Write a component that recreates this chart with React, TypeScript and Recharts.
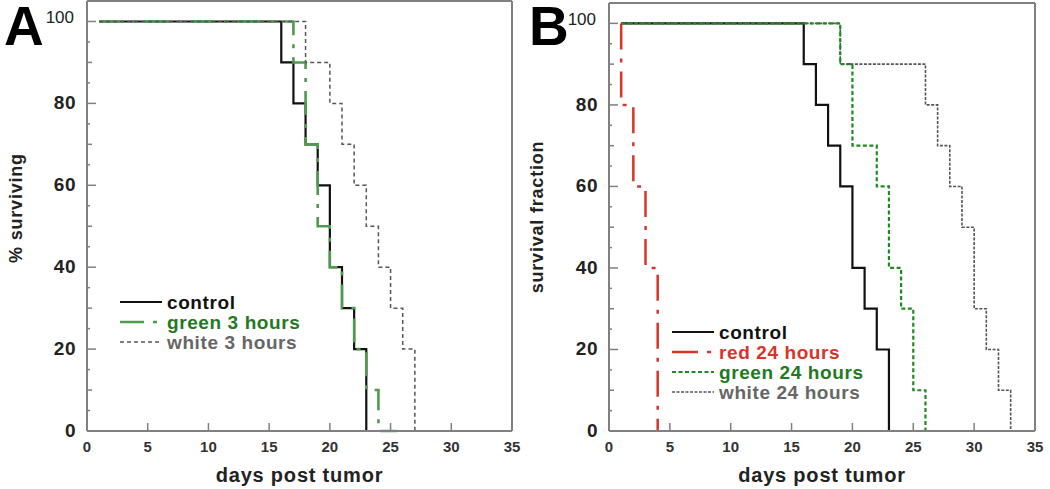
import { LineChart, Line, XAxis, YAxis } from "recharts";

const dayTicks = [0, 5, 10, 15, 20, 25, 30, 35];
const pctTicks = [0, 5, 10, 15, 20, 25, 30, 35, 40, 45, 50, 55, 60, 65, 70, 75, 80, 85, 90, 95, 100];

// panel A
const controlDays = [1, 16, 17, 18, 19, 20, 21, 22, 23];
const controlPct = [100, 90, 80, 70, 60, 40, 30, 20, 0];
const green3Days = [1, 17, 18, 19, 20, 21, 22, 23, 24, 25.5];
const green3Pct = [100, 90, 70, 50, 40, 30, 20, 10, 0, 0];
const white3Days = [1, 18, 20, 21, 22, 23, 24, 25, 26, 27, 32.5];
const white3Pct = [100, 90, 80, 70, 60, 50, 40, 30, 20, 0, 0];

// panel B
const red24Days = [1, 1, 2, 3, 4];
const red24Pct = [100, 80, 60, 40, 0];
const green24Days = [1, 19, 20, 22, 23, 24, 25, 26, 33];
const green24Pct = [100, 90, 70, 60, 40, 30, 10, 0, 0];
const white24Days = [1, 19, 26, 27, 28, 29, 30, 31, 32, 33];
const white24Pct = [100, 90, 80, 70, 60, 50, 30, 20, 10, 0];

const zip = (days: number[], pct: number[]) => days.map((d, i) => ({ day: d, pct: pct[i] }));

const FONT = "'Liberation Sans', Arial, Helvetica, sans-serif";
const FRAME = "#808080";

type Series = {
  name: string;
  data: { day: number; pct: number }[];
  stroke: string;
  text: string;
  width: number;
  dash?: string;
};

const seriesA: Series[] = [
  { name: "control", data: zip(controlDays, controlPct), stroke: "#111", text: "#111", width: 2.2 },
  { name: "green 3 hours", data: zip(green3Days, green3Pct), stroke: "#4f9a4f", text: "#1f7a1f", width: 2.6, dash: "24 9 4 9" },
  { name: "white 3 hours", data: zip(white3Days, white3Pct), stroke: "#555", text: "#666", width: 1.5, dash: "4 3" },
];

const seriesB: Series[] = [
  { name: "control", data: zip(controlDays, controlPct), stroke: "#111", text: "#111", width: 2.2 },
  { name: "red 24 hours", data: zip(red24Days, red24Pct), stroke: "#d8342a", text: "#d8342a", width: 2.5, dash: "26 9 4 9" },
  { name: "green 24 hours", data: zip(green24Days, green24Pct), stroke: "#1f8a1f", text: "#1f7a1f", width: 2.2, dash: "4 2.5" },
  { name: "white 24 hours", data: zip(white24Days, white24Pct), stroke: "#555", text: "#666", width: 1.6, dash: "3 1.5" },
];

const yLen = (v: number) => (v % 20 === 0 ? 9 : v % 10 === 0 ? 5 : 3);

const LeftTick = (p: any) => {
  const v = p.payload.value;
  return (
    <g>
      <line x1={p.x} x2={p.x + yLen(v)} y1={p.y} y2={p.y} stroke={FRAME} strokeWidth={1.5} />
      {v % 20 === 0 &&
        (v === 100 ? (
          <text x={p.x - 13} y={p.y + 2} textAnchor="end" fontFamily={FONT} fontSize={17} fill="#222">
            {v}
          </text>
        ) : (
          <text x={p.x - 11} y={p.y + 6} textAnchor="end" fontFamily={FONT} fontSize={19} fontWeight="bold" fill="#222" letterSpacing={0.5}>
            {v}
          </text>
        ))}
    </g>
  );
};

const RightTick = (p: any) => {
  const v = p.payload.value;
  return <line x1={p.x} x2={p.x - yLen(v)} y1={p.y} y2={p.y} stroke={FRAME} strokeWidth={1.5} />;
};

const BottomTick = (p: any) => (
  <g>
    <line x1={p.x} x2={p.x} y1={p.y} y2={p.y - 8} stroke={FRAME} strokeWidth={1.5} />
    <text x={p.x} y={p.y + 21} textAnchor="middle" fontFamily={FONT} fontSize={15} fontWeight="bold" fill="#333">
      {p.payload.value}
    </text>
  </g>
);

const TopTick = (p: any) => <line x1={p.x} x2={p.x} y1={p.y} y2={p.y + 5} stroke={FRAME} strokeWidth={1.5} />;

function LegendBox({ series, left, top }: { series: Series[]; left: number; top: number }) {
  return (
    <svg width={240} height={series.length * 20 + 6} style={{ position: "absolute", left, top, display: "block" }}>
      {series.map((s, i) => (
        <g key={s.name}>
          <line x1={2} x2={44} y1={12 + i * 20} y2={12 + i * 20} stroke={s.stroke} strokeWidth={s.width} strokeDasharray={s.dash} />
          <text x={49} y={19 + i * 20} fontFamily={FONT} fontSize={19} fontWeight="bold" fill={s.text} letterSpacing={0.6}>
            {s.name}
          </text>
        </g>
      ))}
    </svg>
  );
}

type PanelProps = {
  left: number;
  letter: string;
  yTitle: string;
  series: Series[];
  legend: Series[];
  margin: { top: number; right: number; bottom: number; left: number };
  legendPos: { left: number; top: number };
  yTitleX: number;
  yTitleY: number;
};

function Panel({ left, letter, yTitle, series, legend, margin, legendPos, yTitleX, yTitleY }: PanelProps) {
  return (
    <div style={{ position: "absolute", left, top: 0, width: 525, height: 489 }}>
      <LineChart width={525} height={489} margin={margin}>
        <XAxis
          xAxisId="b"
          dataKey="day"
          type="number"
          domain={[0, 35]}
          ticks={dayTicks}
          interval={0}
          height={58}
          tickSize={0}
          tickMargin={0}
          tickLine={false}
          axisLine={{ stroke: FRAME, strokeWidth: 2 }}
          tick={BottomTick}
          label={{ value: "days post tumor", position: "insideBottom", offset: 7, fontFamily: FONT, fontSize: 20, fontWeight: "bold", fill: "#222", letterSpacing: 0.8 } as any}
        />
        <XAxis
          xAxisId="t"
          orientation="top"
          type="number"
          domain={[0, 35]}
          ticks={dayTicks}
          interval={0}
          height={1}
          tickSize={0}
          tickMargin={0}
          tickLine={false}
          axisLine={{ stroke: FRAME, strokeWidth: 2 }}
          tick={TopTick}
        />
        <YAxis
          yAxisId="l"
          type="number"
          domain={[0, 105]}
          ticks={pctTicks}
          interval={0}
          width={60}
          tickSize={0}
          tickMargin={0}
          tickLine={false}
          axisLine={{ stroke: FRAME, strokeWidth: 2 }}
          tick={LeftTick}
          label={() => (
            <text
              x={yTitleX}
              y={yTitleY}
              transform={`rotate(-90 ${yTitleX} ${yTitleY})`}
              textAnchor="middle"
              dominantBaseline="central"
              fontFamily={FONT}
              fontSize={18}
              fontWeight="bold"
              fill="#222"
              letterSpacing={0.8}
            >
              {yTitle}
            </text>
          )}
        />
        <YAxis
          yAxisId="r"
          orientation="right"
          type="number"
          domain={[0, 105]}
          ticks={pctTicks}
          interval={0}
          width={1}
          tickSize={0}
          tickMargin={0}
          tickLine={false}
          axisLine={{ stroke: FRAME, strokeWidth: 2 }}
          tick={RightTick}
        />
        {series.map((s) => (
          <Line
            key={s.name}
            xAxisId="b"
            yAxisId="l"
            data={s.data}
            dataKey="pct"
            name={s.name}
            type="stepAfter"
            stroke={s.stroke}
            strokeWidth={s.width}
            strokeDasharray={s.dash}
            dot={false}
            activeDot={false}
            isAnimationActive={false}
          />
        ))}
      </LineChart>
      <LegendBox series={legend} left={legendPos.left} top={legendPos.top} />
      <svg width={70} height={60} style={{ position: "absolute", left: 0, top: 0 }}>
        <text x={4} y={45} fontFamily={FONT} fontWeight="bold" fontSize={55} fill="#000">
          {letter}
        </text>
      </svg>
    </div>
  );
}

export default function App() {
  // draw order in B: control first, then white, green, red on top
  const drawB = [seriesB[0], seriesB[3], seriesB[2], seriesB[1]];
  return (
    <div style={{ position: "absolute", left: 0, top: 0, width: 1050, height: 489, background: "#fff", overflow: "hidden" }}>
      <Panel
        left={0}
        letter="A"
        yTitle="% surviving"
        series={seriesA}
        legend={seriesA}
        margin={{ top: 0, right: 12, bottom: 0, left: 27 }}
        legendPos={{ left: 118, top: 290 }}
        yTitleX={16}
        yTitleY={208}
      />
      <Panel
        left={525}
        letter="B"
        yTitle="survival fraction"
        series={drawB}
        legend={seriesB}
        margin={{ top: 2, right: 14, bottom: 0, left: 24 }}
        legendPos={{ left: 145, top: 320 }}
        yTitleX={12}
        yTitleY={217}
      />
    </div>
  );
}
